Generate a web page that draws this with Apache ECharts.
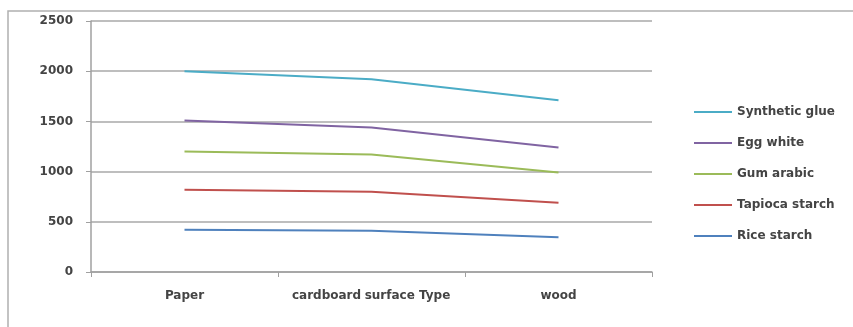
<!DOCTYPE html>
<html><head><meta charset="utf-8">
<script src="https://cdn.jsdelivr.net/npm/echarts@6/dist/echarts.min.js"></script>
<style>html,body{margin:0;padding:0;background:#fff}#c{width:853px;height:327px}</style>
</head><body><div id="c"></div>
<script>
const categories = ['Paper', 'cardboard', 'wood'];
const axisTitle = 'surface Type';
const yTicks = [0, 500, 1000, 1500, 2000, 2500];
const riceStarch = [420, 410, 345];
const tapiocaStarch = [820, 800, 690];
const gumArabic = [1200, 1170, 990];
const eggWhite = [1510, 1440, 1240];
const syntheticGlue = [2000, 1920, 1710];
const seriesNames = ['Rice starch', 'Tapioca starch', 'Gum arabic', 'Egg white', 'Synthetic glue'];
const seriesData = [riceStarch, tapiocaStarch, gumArabic, eggWhite, syntheticGlue];
const colors = ['#4f81bd', '#c0504d', '#9bbb59', '#8064a2', '#4bacc6'];

const chart = echarts.init(document.getElementById('c'));
const font = 'DejaVu Sans';
const txt = {fontFamily: font, fontSize: 12, fontWeight: 'bold', color: '#444'};
chart.setOption({
  animation: false,
  graphic: [{type: 'rect', shape: {x: 8, y: 11, width: 870, height: 340}, style: {fill: 'none', stroke: '#b0b0b0', lineWidth: 1.5}, silent: true}],
  grid: {left: 91, top: 21, right: 201, bottom: 55},
  legend: {
    orient: 'vertical', left: 689, top: 101, itemWidth: 38, itemHeight: 2, itemGap: 19,
    icon: 'rect',
    data: seriesNames.slice().reverse(),
    textStyle: Object.assign({}, txt)
  },
  xAxis: {
    type: 'category', data: categories, boundaryGap: true,
    name: axisTitle, nameLocation: 'middle', nameGap: 18, nameMoveOverlap: false,
    nameTextStyle: Object.assign({}, txt, {padding: [0, 0, 0, 72]}),
    axisLine: {lineStyle: {color: '#a0a0a0', width: 1.5}},
    axisTick: {show: true, length: 5, lineStyle: {color: '#a0a0a0'}},
    axisLabel: Object.assign({}, txt, {
      margin: 18,
      formatter: function (v, i) { return i === 1 ? '{c|' + v + '}' : v; },
      rich: {c: Object.assign({}, txt, {padding: [0, 90, 0, 0]})}
    })
  },
  yAxis: {
    type: 'value', min: yTicks[0], max: yTicks[yTicks.length - 1], interval: yTicks[1] - yTicks[0],
    axisLine: {show: true, lineStyle: {color: '#a0a0a0', width: 1.5}},
    axisTick: {show: true, length: 5, lineStyle: {color: '#a0a0a0'}},
    axisLabel: Object.assign({}, txt, {margin: 18, formatter: function (v) { return String(v); }}),
    splitLine: {lineStyle: {color: '#a8a8a8', width: 1.5}}
  },
  series: seriesNames.map((n, i) => ({
    name: n, type: 'line', data: seriesData[i], symbol: 'none',
    lineStyle: {color: colors[i], width: 2}, itemStyle: {color: colors[i]}
  }))
});
</script></body></html>
